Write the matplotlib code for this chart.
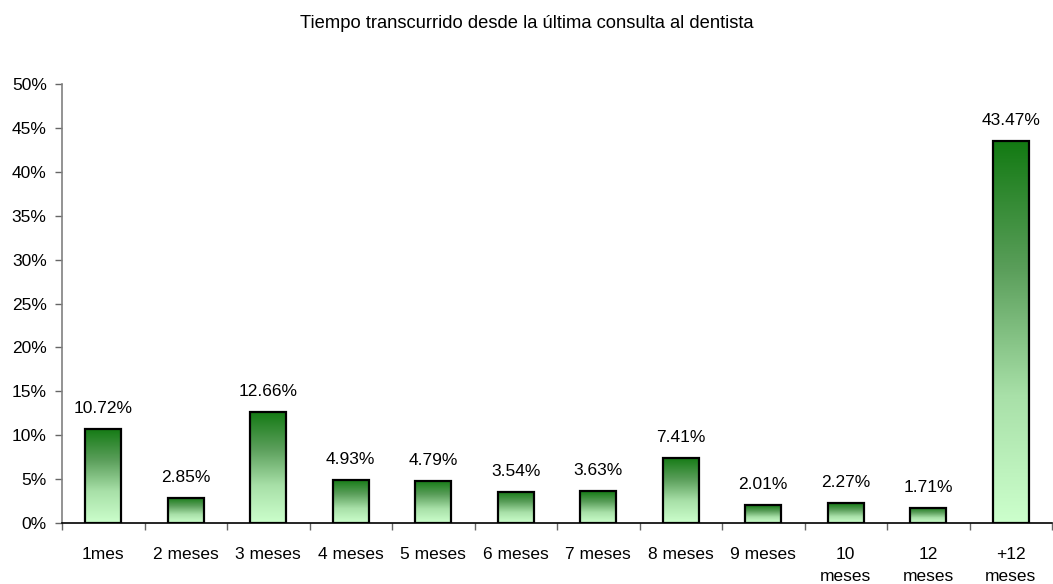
import matplotlib
matplotlib.use("Agg")
import matplotlib.pyplot as plt
import numpy as np
from matplotlib.colors import LinearSegmentedColormap

categories = ["1mes", "2 meses", "3 meses", "4 meses", "5 meses", "6 meses",
              "7 meses", "8 meses", "9 meses", "10\nmeses", "12\nmeses", "+12\nmeses"]
values = [10.72, 2.85, 12.66, 4.93, 4.79, 3.54, 3.63, 7.41, 2.01, 2.27, 1.71, 43.47]
labels = ["10.72%", "2.85%", "12.66%", "4.93%", "4.79%", "3.54%", "3.63%",
          "7.41%", "2.01%", "2.27%", "1.71%", "43.47%"]
yticks = [0, 5, 10, 15, 20, 25, 30, 35, 40, 45, 50]
title = "Tiempo transcurrido desde la última consulta al dentista"

plt.rcParams['font.family'] = ['Liberation Sans', 'DejaVu Sans']
FS = 12.5

fig = plt.figure(figsize=(10.53, 5.84), dpi=100)
ax = fig.add_axes([62/1053, 1-523/584, (1052-62)/1053, (523-84)/584])

cmap = LinearSegmentedColormap.from_list("g", ["#ccffcc", "#a8e0a8", "#5a9e5a", "#137a13"])
grad = np.linspace(0, 1, 256).reshape(-1, 1)
width = 0.44
x = np.arange(len(values))
for xi, v in zip(x, values):
    ax.imshow(grad, extent=[xi - width/2, xi + width/2, 0, v], origin='lower',
              cmap=cmap, aspect='auto', zorder=2)
ax.bar(x, values, width=width, facecolor='none', edgecolor='black', linewidth=1.6, zorder=3)
for xi, v, lab in zip(x, values, labels):
    ax.text(xi, v + 1.5, lab, ha='center', va='bottom', fontsize=FS)

ax.set_xlim(-0.5, len(values) - 0.5)
ax.set_ylim(0, 50)
ax.set_yticks(yticks)
ax.set_yticklabels([f"{t}%" for t in yticks], fontsize=FS)
ax.set_xticks(x)
ax.set_xticklabels(categories, fontsize=FS, linespacing=1.6, va='top')
ax.set_xticks(np.arange(len(values) + 1) - 0.5, minor=True)
ax.tick_params(axis='x', which='major', length=0, pad=17)
ax.tick_params(axis='x', which='minor', length=5, color='#666666', width=1)
ax.tick_params(axis='y', length=5, color='#666666', width=1, pad=6)

for s in ['top', 'right']:
    ax.spines[s].set_visible(False)
ax.spines['left'].set_color('#808080')
ax.spines['left'].set_linewidth(1.2)
ax.spines['bottom'].set_color('black')
ax.spines['bottom'].set_linewidth(1.2)

fig.text(0.5, 1 - 23/584, title, ha='center', va='center', fontsize=13.2)

fig.savefig("out.png", dpi=100)
